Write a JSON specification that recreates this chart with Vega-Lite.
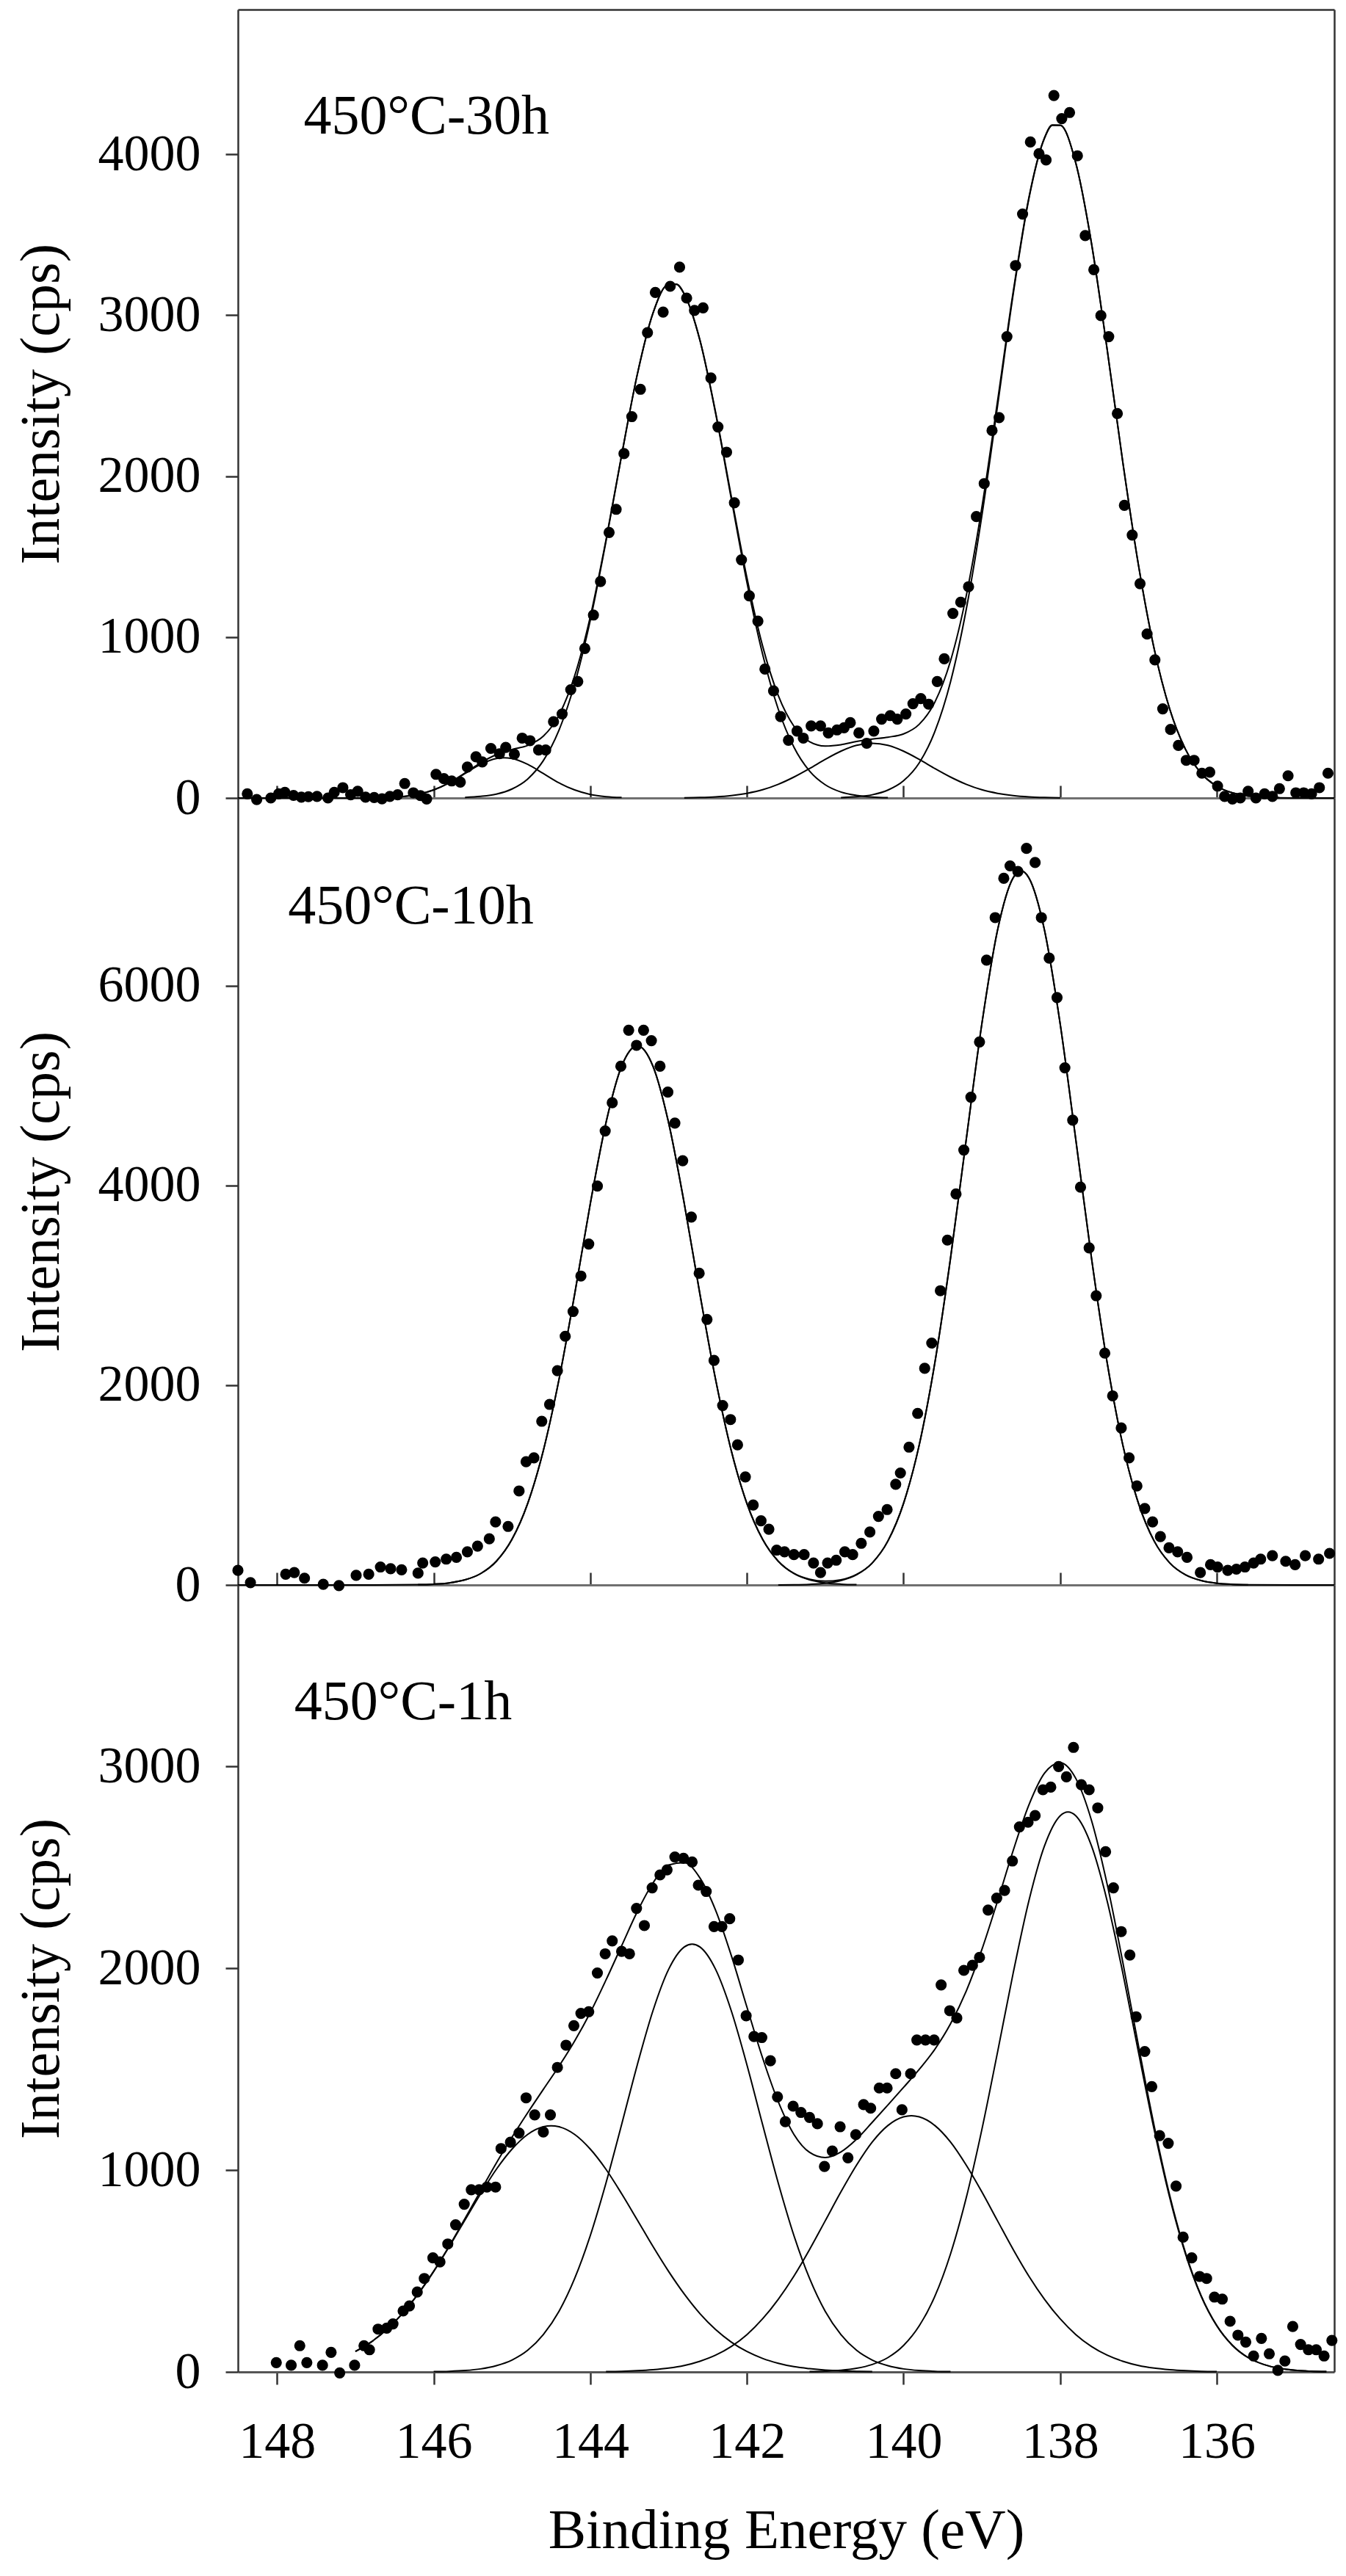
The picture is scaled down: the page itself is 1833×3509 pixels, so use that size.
{
"$schema":"https://vega.github.io/schema/vega-lite/v6.json",
"background":"white",
"padding":{"left":18,"top":13,"right":10,"bottom":10},
"spacing":0,
"bounds":"flush",
"config":{"view":{"stroke":null},"axis":{"labelFont":"Liberation Serif","titleFont":"Liberation Serif","labelColor":"black","titleColor":"black","titleFontWeight":"normal","grid":false}},
"datasets":{
"pts":[
{"p":1,"E":148.38,"I":26},{"p":1,"E":148.26,"I":-10},{"p":1,"E":148.08,"I":0},{"p":1,"E":147.98,"I":26},{"p":1,"E":147.9,"I":35},{"p":1,"E":147.79,"I":16},{"p":1,"E":147.69,"I":5},{"p":1,"E":147.6,"I":8},{"p":1,"E":147.49,"I":10},{"p":1,"E":147.35,"I":0},{"p":1,"E":147.27,"I":35},{"p":1,"E":147.16,"I":64},{"p":1,"E":147.06,"I":20},{"p":1,"E":146.97,"I":42},{"p":1,"E":146.87,"I":5},{"p":1,"E":146.76,"I":3},{"p":1,"E":146.66,"I":-5},{"p":1,"E":146.56,"I":10},{"p":1,"E":146.46,"I":20},{"p":1,"E":146.37,"I":90},{"p":1,"E":146.26,"I":32},{"p":1,"E":146.17,"I":15},{"p":1,"E":146.09,"I":-6},{"p":1,"E":145.97,"I":147},{"p":1,"E":145.87,"I":120},{"p":1,"E":145.77,"I":106},{"p":1,"E":145.66,"I":99},{"p":1,"E":145.57,"I":192},{"p":1,"E":145.46,"I":256},{"p":1,"E":145.38,"I":224},{"p":1,"E":145.27,"I":308},{"p":1,"E":145.16,"I":275},{"p":1,"E":145.08,"I":314},{"p":1,"E":144.97,"I":272},{"p":1,"E":144.87,"I":372},{"p":1,"E":144.77,"I":356},{"p":1,"E":144.66,"I":298},{"p":1,"E":144.57,"I":298},{"p":1,"E":144.47,"I":474},{"p":1,"E":144.36,"I":522},{"p":1,"E":144.25,"I":673},{"p":1,"E":144.16,"I":724},{"p":1,"E":144.07,"I":929},{"p":1,"E":143.96,"I":1137},{"p":1,"E":143.87,"I":1345},{"p":1,"E":143.76,"I":1650},{"p":1,"E":143.67,"I":1794},{"p":1,"E":143.57,"I":2140},{"p":1,"E":143.47,"I":2370},{"p":1,"E":143.36,"I":2540},{"p":1,"E":143.27,"I":2892},{"p":1,"E":143.17,"I":3142},{"p":1,"E":143.07,"I":3020},{"p":1,"E":142.98,"I":3180},{"p":1,"E":142.86,"I":3299},{"p":1,"E":142.77,"I":3107},{"p":1,"E":142.67,"I":3030},{"p":1,"E":142.56,"I":3046},{"p":1,"E":142.46,"I":2610},{"p":1,"E":142.37,"I":2306},{"p":1,"E":142.26,"I":2149},{"p":1,"E":142.16,"I":1835},{"p":1,"E":142.07,"I":1480},{"p":1,"E":141.97,"I":1256},{"p":1,"E":141.86,"I":1099},{"p":1,"E":141.77,"I":801},{"p":1,"E":141.66,"I":666},{"p":1,"E":141.57,"I":506},{"p":1,"E":141.47,"I":359},{"p":1,"E":141.36,"I":416},{"p":1,"E":141.28,"I":372},{"p":1,"E":141.18,"I":448},{"p":1,"E":141.06,"I":448},{"p":1,"E":140.96,"I":404},{"p":1,"E":140.85,"I":423},{"p":1,"E":140.76,"I":436},{"p":1,"E":140.68,"I":468},{"p":1,"E":140.57,"I":404},{"p":1,"E":140.47,"I":340},{"p":1,"E":140.38,"I":416},{"p":1,"E":140.28,"I":490},{"p":1,"E":140.17,"I":512},{"p":1,"E":140.08,"I":490},{"p":1,"E":139.97,"I":522},{"p":1,"E":139.88,"I":586},{"p":1,"E":139.78,"I":618},{"p":1,"E":139.68,"I":583},{"p":1,"E":139.57,"I":724},{"p":1,"E":139.48,"I":865},{"p":1,"E":139.37,"I":1147},{"p":1,"E":139.27,"I":1217},{"p":1,"E":139.17,"I":1313},{"p":1,"E":139.07,"I":1749},{"p":1,"E":138.97,"I":1954},{"p":1,"E":138.87,"I":2284},{"p":1,"E":138.78,"I":2364},{"p":1,"E":138.68,"I":2867},{"p":1,"E":138.57,"I":3309},{"p":1,"E":138.48,"I":3629},{"p":1,"E":138.38,"I":4077},{"p":1,"E":138.27,"I":4004},{"p":1,"E":138.18,"I":3965},{"p":1,"E":138.08,"I":4366},{"p":1,"E":137.98,"I":4222},{"p":1,"E":137.88,"I":4260},{"p":1,"E":137.78,"I":3991},{"p":1,"E":137.68,"I":3495},{"p":1,"E":137.57,"I":3283},{"p":1,"E":137.48,"I":2998},{"p":1,"E":137.38,"I":2867},{"p":1,"E":137.27,"I":2389},{"p":1,"E":137.18,"I":1819},{"p":1,"E":137.08,"I":1634},{"p":1,"E":136.98,"I":1332},{"p":1,"E":136.89,"I":1019},{"p":1,"E":136.79,"I":858},{"p":1,"E":136.69,"I":554},{"p":1,"E":136.59,"I":426},{"p":1,"E":136.49,"I":327},{"p":1,"E":136.39,"I":234},{"p":1,"E":136.29,"I":234},{"p":1,"E":136.19,"I":154},{"p":1,"E":136.09,"I":160},{"p":1,"E":135.99,"I":74},{"p":1,"E":135.9,"I":10},{"p":1,"E":135.8,"I":-6},{"p":1,"E":135.7,"I":0},{"p":1,"E":135.6,"I":42},{"p":1,"E":135.5,"I":0},{"p":1,"E":135.39,"I":26},{"p":1,"E":135.29,"I":10},{"p":1,"E":135.2,"I":58},{"p":1,"E":135.09,"I":138},{"p":1,"E":134.99,"I":32},{"p":1,"E":134.89,"I":32},{"p":1,"E":134.79,"I":26},{"p":1,"E":134.69,"I":64},{"p":1,"E":134.58,"I":154},
{"p":2,"E":148.5,"I":146},{"p":2,"E":148.34,"I":23},{"p":2,"E":147.89,"I":107},{"p":2,"E":147.78,"I":124},{"p":2,"E":147.65,"I":68},{"p":2,"E":147.41,"I":6},{"p":2,"E":147.21,"I":-6},{"p":2,"E":146.99,"I":96},{"p":2,"E":146.83,"I":107},{"p":2,"E":146.68,"I":180},{"p":2,"E":146.55,"I":163},{"p":2,"E":146.41,"I":152},{"p":2,"E":146.2,"I":118},{"p":2,"E":146.14,"I":220},{"p":2,"E":145.98,"I":231},{"p":2,"E":145.84,"I":259},{"p":2,"E":145.71,"I":276},{"p":2,"E":145.57,"I":332},{"p":2,"E":145.44,"I":389},{"p":2,"E":145.29,"I":462},{"p":2,"E":145.21,"I":631},{"p":2,"E":145.05,"I":586},{"p":2,"E":144.91,"I":941},{"p":2,"E":144.82,"I":1234},{"p":2,"E":144.72,"I":1273},{"p":2,"E":144.62,"I":1639},{"p":2,"E":144.52,"I":1808},{"p":2,"E":144.42,"I":2146},{"p":2,"E":144.32,"I":2490},{"p":2,"E":144.22,"I":2738},{"p":2,"E":144.12,"I":3093},{"p":2,"E":144.02,"I":3414},{"p":2,"E":143.91,"I":3994},{"p":2,"E":143.81,"I":4546},{"p":2,"E":143.72,"I":4828},{"p":2,"E":143.61,"I":5194},{"p":2,"E":143.51,"I":5555},{"p":2,"E":143.41,"I":5403},{"p":2,"E":143.32,"I":5555},{"p":2,"E":143.22,"I":5450},{"p":2,"E":143.11,"I":5194},{"p":2,"E":143.01,"I":4935},{"p":2,"E":142.92,"I":4625},{"p":2,"E":142.82,"I":4248},{"p":2,"E":142.71,"I":3684},{"p":2,"E":142.61,"I":3121},{"p":2,"E":142.51,"I":2659},{"p":2,"E":142.42,"I":2248},{"p":2,"E":142.31,"I":1797},{"p":2,"E":142.21,"I":1656},{"p":2,"E":142.12,"I":1403},{"p":2,"E":142.02,"I":1082},{"p":2,"E":141.92,"I":800},{"p":2,"E":141.82,"I":642},{"p":2,"E":141.72,"I":558},{"p":2,"E":141.62,"I":349},{"p":2,"E":141.52,"I":332},{"p":2,"E":141.4,"I":304},{"p":2,"E":141.27,"I":304},{"p":2,"E":141.15,"I":220},{"p":2,"E":141.06,"I":124},{"p":2,"E":140.97,"I":220},{"p":2,"E":140.86,"I":248},{"p":2,"E":140.75,"I":332},{"p":2,"E":140.65,"I":304},{"p":2,"E":140.54,"I":417},{"p":2,"E":140.43,"I":530},{"p":2,"E":140.32,"I":687},{"p":2,"E":140.21,"I":755},{"p":2,"E":140.1,"I":1008},{"p":2,"E":140.04,"I":1121},{"p":2,"E":139.93,"I":1380},{"p":2,"E":139.82,"I":1718},{"p":2,"E":139.73,"I":2169},{"p":2,"E":139.64,"I":2422},{"p":2,"E":139.53,"I":2946},{"p":2,"E":139.44,"I":3453},{"p":2,"E":139.33,"I":3915},{"p":2,"E":139.23,"I":4355},{"p":2,"E":139.14,"I":4884},{"p":2,"E":139.03,"I":5437},{"p":2,"E":138.94,"I":6256},{"p":2,"E":138.83,"I":6682},{"p":2,"E":138.72,"I":7076},{"p":2,"E":138.64,"I":7200},{"p":2,"E":138.54,"I":7144},{"p":2,"E":138.43,"I":7375},{"p":2,"E":138.32,"I":7234},{"p":2,"E":138.24,"I":6682},{"p":2,"E":138.14,"I":6276},{"p":2,"E":138.04,"I":5882},{"p":2,"E":137.94,"I":5178},{"p":2,"E":137.84,"I":4654},{"p":2,"E":137.74,"I":3983},{"p":2,"E":137.63,"I":3375},{"p":2,"E":137.54,"I":2896},{"p":2,"E":137.43,"I":2321},{"p":2,"E":137.33,"I":1893},{"p":2,"E":137.22,"I":1572},{"p":2,"E":137.12,"I":1273},{"p":2,"E":137.02,"I":991},{"p":2,"E":136.92,"I":766},{"p":2,"E":136.82,"I":631},{"p":2,"E":136.72,"I":484},{"p":2,"E":136.61,"I":372},{"p":2,"E":136.5,"I":332},{"p":2,"E":136.38,"I":276},{"p":2,"E":136.21,"I":124},{"p":2,"E":136.08,"I":203},{"p":2,"E":135.99,"I":180},{"p":2,"E":135.86,"I":146},{"p":2,"E":135.75,"I":158},{"p":2,"E":135.64,"I":180},{"p":2,"E":135.53,"I":220},{"p":2,"E":135.44,"I":259},{"p":2,"E":135.29,"I":293},{"p":2,"E":135.12,"I":237},{"p":2,"E":135.0,"I":203},{"p":2,"E":134.87,"I":293},{"p":2,"E":134.7,"I":259},{"p":2,"E":134.56,"I":316},
{"p":3,"E":148.01,"I":46},{"p":3,"E":147.82,"I":33},{"p":3,"E":147.71,"I":130},{"p":3,"E":147.62,"I":46},{"p":3,"E":147.42,"I":33},{"p":3,"E":147.31,"I":97},{"p":3,"E":147.2,"I":-5},{"p":3,"E":147.01,"I":33},{"p":3,"E":146.89,"I":130},{"p":3,"E":146.82,"I":110},{"p":3,"E":146.71,"I":212},{"p":3,"E":146.6,"I":217},{"p":3,"E":146.52,"I":238},{"p":3,"E":146.39,"I":302},{"p":3,"E":146.31,"I":327},{"p":3,"E":146.21,"I":396},{"p":3,"E":146.12,"I":463},{"p":3,"E":146.01,"I":565},{"p":3,"E":145.92,"I":545},{"p":3,"E":145.82,"I":634},{"p":3,"E":145.72,"I":729},{"p":3,"E":145.61,"I":831},{"p":3,"E":145.52,"I":903},{"p":3,"E":145.42,"I":903},{"p":3,"E":145.32,"I":916},{"p":3,"E":145.21,"I":916},{"p":3,"E":145.14,"I":1107},{"p":3,"E":145.02,"I":1138},{"p":3,"E":144.91,"I":1184},{"p":3,"E":144.82,"I":1358},{"p":3,"E":144.71,"I":1274},{"p":3,"E":144.6,"I":1189},{"p":3,"E":144.51,"I":1274},{"p":3,"E":144.42,"I":1509},{"p":3,"E":144.31,"I":1619},{"p":3,"E":144.21,"I":1716},{"p":3,"E":144.12,"I":1777},{"p":3,"E":144.02,"I":1785},{"p":3,"E":143.91,"I":1977},{"p":3,"E":143.81,"I":2072},{"p":3,"E":143.72,"I":2136},{"p":3,"E":143.6,"I":2084},{"p":3,"E":143.5,"I":2072},{"p":3,"E":143.41,"I":2297},{"p":3,"E":143.31,"I":2212},{"p":3,"E":143.21,"I":2399},{"p":3,"E":143.11,"I":2463},{"p":3,"E":143.02,"I":2488},{"p":3,"E":142.92,"I":2552},{"p":3,"E":142.81,"I":2545},{"p":3,"E":142.7,"I":2527},{"p":3,"E":142.62,"I":2412},{"p":3,"E":142.52,"I":2381},{"p":3,"E":142.42,"I":2207},{"p":3,"E":142.32,"I":2207},{"p":3,"E":142.22,"I":2246},{"p":3,"E":142.11,"I":2041},{"p":3,"E":142.01,"I":1765},{"p":3,"E":141.91,"I":1662},{"p":3,"E":141.81,"I":1657},{"p":3,"E":141.7,"I":1542},{"p":3,"E":141.61,"I":1363},{"p":3,"E":141.51,"I":1240},{"p":3,"E":141.41,"I":1317},{"p":3,"E":141.31,"I":1286},{"p":3,"E":141.2,"I":1261},{"p":3,"E":141.1,"I":1230},{"p":3,"E":141.01,"I":1018},{"p":3,"E":140.91,"I":1095},{"p":3,"E":140.81,"I":1215},{"p":3,"E":140.71,"I":1061},{"p":3,"E":140.61,"I":1176},{"p":3,"E":140.51,"I":1325},{"p":3,"E":140.42,"I":1307},{"p":3,"E":140.31,"I":1407},{"p":3,"E":140.21,"I":1407},{"p":3,"E":140.1,"I":1478},{"p":3,"E":140.02,"I":1299},{"p":3,"E":139.91,"I":1478},{"p":3,"E":139.83,"I":1645},{"p":3,"E":139.72,"I":1645},{"p":3,"E":139.61,"I":1645},{"p":3,"E":139.52,"I":1918},{"p":3,"E":139.41,"I":1790},{"p":3,"E":139.32,"I":1754},{"p":3,"E":139.23,"I":1990},{"p":3,"E":139.12,"I":2015},{"p":3,"E":139.03,"I":2054},{"p":3,"E":138.92,"I":2289},{"p":3,"E":138.81,"I":2348},{"p":3,"E":138.71,"I":2386},{"p":3,"E":138.61,"I":2532},{"p":3,"E":138.52,"I":2701},{"p":3,"E":138.41,"I":2724},{"p":3,"E":138.32,"I":2757},{"p":3,"E":138.22,"I":2885},{"p":3,"E":138.12,"I":2898},{"p":3,"E":138.02,"I":3000},{"p":3,"E":137.92,"I":2949},{"p":3,"E":137.83,"I":3095},{"p":3,"E":137.73,"I":2910},{"p":3,"E":137.63,"I":2885},{"p":3,"E":137.52,"I":2795},{"p":3,"E":137.42,"I":2578},{"p":3,"E":137.32,"I":2399},{"p":3,"E":137.22,"I":2182},{"p":3,"E":137.11,"I":2066},{"p":3,"E":137.03,"I":1760},{"p":3,"E":136.92,"I":1588},{"p":3,"E":136.83,"I":1414},{"p":3,"E":136.73,"I":1171},{"p":3,"E":136.62,"I":1133},{"p":3,"E":136.52,"I":921},{"p":3,"E":136.43,"I":668},{"p":3,"E":136.32,"I":565},{"p":3,"E":136.22,"I":473},{"p":3,"E":136.13,"I":463},{"p":3,"E":136.03,"I":371},{"p":3,"E":135.93,"I":361},{"p":3,"E":135.83,"I":251},{"p":3,"E":135.73,"I":182},{"p":3,"E":135.63,"I":148},{"p":3,"E":135.53,"I":79},{"p":3,"E":135.43,"I":166},{"p":3,"E":135.33,"I":90},{"p":3,"E":135.22,"I":8},{"p":3,"E":135.13,"I":54},{"p":3,"E":135.03,"I":225},{"p":3,"E":134.93,"I":136},{"p":3,"E":134.83,"I":110},{"p":3,"E":134.73,"I":110},{"p":3,"E":134.63,"I":79},{"p":3,"E":134.53,"I":156}
],
"fit":[
{"p":1,"c":"e","E":148.5,"I":0},{"p":1,"c":"e","E":147.5,"I":0},{"p":1,"c":"e","E":147.0,"I":0.3},{"p":1,"c":"e","E":146.6,"I":3},{"p":1,"c":"e","E":146.4,"I":9},{"p":1,"c":"e","E":146.2,"I":22},{"p":1,"c":"e","E":146.0,"I":50},{"p":1,"c":"e","E":145.8,"I":95},{"p":1,"c":"e","E":145.6,"I":156},{"p":1,"c":"e","E":145.4,"I":219},{"p":1,"c":"e","E":145.2,"I":269},{"p":1,"c":"e","E":145.0,"I":301},{"p":1,"c":"e","E":144.8,"I":327},{"p":1,"c":"e","E":144.6,"I":384},{"p":1,"c":"e","E":144.4,"I":515},{"p":1,"c":"e","E":144.2,"I":759},{"p":1,"c":"e","E":144.0,"I":1127},{"p":1,"c":"e","E":143.8,"I":1603},{"p":1,"c":"e","E":143.6,"I":2132},{"p":1,"c":"e","E":143.4,"I":2633},{"p":1,"c":"e","E":143.2,"I":3013},{"p":1,"c":"e","E":143.0,"I":3193},{"p":1,"c":"e","E":142.9,"I":3193},{"p":1,"c":"e","E":142.8,"I":3132},{"p":1,"c":"e","E":142.6,"I":2846},{"p":1,"c":"e","E":142.4,"I":2397},{"p":1,"c":"e","E":142.2,"I":1875},{"p":1,"c":"e","E":142.0,"I":1369},{"p":1,"c":"e","E":141.8,"I":945},{"p":1,"c":"e","E":141.6,"I":637},{"p":1,"c":"e","E":141.4,"I":446},{"p":1,"c":"e","E":141.2,"I":350},{"p":1,"c":"e","E":141.0,"I":323},{"p":1,"c":"e","E":140.8,"I":331},{"p":1,"c":"e","E":140.6,"I":351},{"p":1,"c":"e","E":140.4,"I":366},{"p":1,"c":"e","E":140.2,"I":378},{"p":1,"c":"e","E":140.0,"I":398},{"p":1,"c":"e","E":139.8,"I":458},{"p":1,"c":"e","E":139.6,"I":596},{"p":1,"c":"e","E":139.4,"I":852},{"p":1,"c":"e","E":139.2,"I":1255},{"p":1,"c":"e","E":139.0,"I":1805},{"p":1,"c":"e","E":138.8,"I":2465},{"p":1,"c":"e","E":138.6,"I":3145},{"p":1,"c":"e","E":138.4,"I":3730},{"p":1,"c":"e","E":138.2,"I":4103},{"p":1,"c":"e","E":138.1,"I":4182},{"p":1,"c":"e","E":138.0,"I":4181},{"p":1,"c":"e","E":137.8,"I":3945},{"p":1,"c":"e","E":137.6,"I":3447},{"p":1,"c":"e","E":137.4,"I":2788},{"p":1,"c":"e","E":137.2,"I":2087},{"p":1,"c":"e","E":137.0,"I":1447},{"p":1,"c":"e","E":136.8,"I":928},{"p":1,"c":"e","E":136.6,"I":551},{"p":1,"c":"e","E":136.4,"I":303},{"p":1,"c":"e","E":136.2,"I":154},{"p":1,"c":"e","E":136.0,"I":73},{"p":1,"c":"e","E":135.8,"I":32},{"p":1,"c":"e","E":135.6,"I":13},{"p":1,"c":"e","E":135.4,"I":5},{"p":1,"c":"e","E":135.0,"I":0},{"p":1,"c":"e","E":134.5,"I":0},
{"p":1,"c":"a","E":146.6,"I":3},{"p":1,"c":"a","E":146.4,"I":8.5},{"p":1,"c":"a","E":146.2,"I":22},{"p":1,"c":"a","E":146.0,"I":50},{"p":1,"c":"a","E":145.8,"I":94},{"p":1,"c":"a","E":145.6,"I":152},{"p":1,"c":"a","E":145.4,"I":209},{"p":1,"c":"a","E":145.2,"I":245},{"p":1,"c":"a","E":145.1,"I":250},{"p":1,"c":"a","E":145.0,"I":245},{"p":1,"c":"a","E":144.8,"I":209},{"p":1,"c":"a","E":144.6,"I":152},{"p":1,"c":"a","E":144.4,"I":94},{"p":1,"c":"a","E":144.2,"I":50},{"p":1,"c":"a","E":144.0,"I":22},{"p":1,"c":"a","E":143.8,"I":8.5},{"p":1,"c":"a","E":143.6,"I":3},
{"p":1,"c":"b","E":145.6,"I":3.6},{"p":1,"c":"b","E":145.4,"I":10},{"p":1,"c":"b","E":145.2,"I":24},{"p":1,"c":"b","E":145.0,"I":56},{"p":1,"c":"b","E":144.8,"I":118},{"p":1,"c":"b","E":144.6,"I":232},{"p":1,"c":"b","E":144.4,"I":421},{"p":1,"c":"b","E":144.2,"I":709},{"p":1,"c":"b","E":144.0,"I":1105},{"p":1,"c":"b","E":143.8,"I":1594},{"p":1,"c":"b","E":143.6,"I":2129},{"p":1,"c":"b","E":143.4,"I":2632},{"p":1,"c":"b","E":143.2,"I":3013},{"p":1,"c":"b","E":143.0,"I":3192},{"p":1,"c":"b","E":142.9,"I":3192},{"p":1,"c":"b","E":142.8,"I":3131},{"p":1,"c":"b","E":142.6,"I":2843},{"p":1,"c":"b","E":142.4,"I":2390},{"p":1,"c":"b","E":142.2,"I":1860},{"p":1,"c":"b","E":142.0,"I":1340},{"p":1,"c":"b","E":141.8,"I":894},{"p":1,"c":"b","E":141.6,"I":552},{"p":1,"c":"b","E":141.4,"I":316},{"p":1,"c":"b","E":141.2,"I":167},{"p":1,"c":"b","E":141.0,"I":82},{"p":1,"c":"b","E":140.8,"I":37},{"p":1,"c":"b","E":140.6,"I":16},{"p":1,"c":"b","E":140.4,"I":6},{"p":1,"c":"b","E":140.2,"I":2},
{"p":1,"c":"c","E":142.8,"I":1},{"p":1,"c":"c","E":142.6,"I":3},{"p":1,"c":"c","E":142.4,"I":7},{"p":1,"c":"c","E":142.2,"I":15},{"p":1,"c":"c","E":142.0,"I":29},{"p":1,"c":"c","E":141.8,"I":51},{"p":1,"c":"c","E":141.6,"I":85},{"p":1,"c":"c","E":141.4,"I":130},{"p":1,"c":"c","E":141.2,"I":183},{"p":1,"c":"c","E":141.0,"I":240},{"p":1,"c":"c","E":140.8,"I":291},{"p":1,"c":"c","E":140.6,"I":327},{"p":1,"c":"c","E":140.4,"I":340},{"p":1,"c":"c","E":140.2,"I":327},{"p":1,"c":"c","E":140.0,"I":291},{"p":1,"c":"c","E":139.8,"I":240},{"p":1,"c":"c","E":139.6,"I":183},{"p":1,"c":"c","E":139.4,"I":130},{"p":1,"c":"c","E":139.2,"I":85},{"p":1,"c":"c","E":139.0,"I":51},{"p":1,"c":"c","E":138.8,"I":29},{"p":1,"c":"c","E":138.6,"I":15},{"p":1,"c":"c","E":138.4,"I":7},{"p":1,"c":"c","E":138.2,"I":3},{"p":1,"c":"c","E":138.0,"I":1},
{"p":1,"c":"d","E":140.8,"I":2.8},{"p":1,"c":"d","E":140.6,"I":8},{"p":1,"c":"d","E":140.4,"I":20},{"p":1,"c":"d","E":140.2,"I":49},{"p":1,"c":"d","E":140.0,"I":107},{"p":1,"c":"d","E":139.8,"I":218},{"p":1,"c":"d","E":139.6,"I":413},{"p":1,"c":"d","E":139.4,"I":722},{"p":1,"c":"d","E":139.2,"I":1170},{"p":1,"c":"d","E":139.0,"I":1754},{"p":1,"c":"d","E":138.8,"I":2436},{"p":1,"c":"d","E":138.6,"I":3130},{"p":1,"c":"d","E":138.4,"I":3723},{"p":1,"c":"d","E":138.2,"I":4100},{"p":1,"c":"d","E":138.1,"I":4180},{"p":1,"c":"d","E":138.0,"I":4180},{"p":1,"c":"d","E":137.8,"I":3945},{"p":1,"c":"d","E":137.6,"I":3447},{"p":1,"c":"d","E":137.4,"I":2788},{"p":1,"c":"d","E":137.2,"I":2087},{"p":1,"c":"d","E":137.0,"I":1447},{"p":1,"c":"d","E":136.8,"I":928},{"p":1,"c":"d","E":136.6,"I":551},{"p":1,"c":"d","E":136.4,"I":303},{"p":1,"c":"d","E":136.2,"I":154},{"p":1,"c":"d","E":136.0,"I":73},{"p":1,"c":"d","E":135.8,"I":32},{"p":1,"c":"d","E":135.6,"I":13},{"p":1,"c":"d","E":135.4,"I":5},{"p":1,"c":"d","E":135.2,"I":2},
{"p":2,"c":"e","E":148.5,"I":0},{"p":2,"c":"e","E":147.0,"I":0},{"p":2,"c":"e","E":146.2,"I":2.8},{"p":2,"c":"e","E":146.0,"I":8},{"p":2,"c":"e","E":145.8,"I":21},{"p":2,"c":"e","E":145.6,"I":51},{"p":2,"c":"e","E":145.4,"I":114},{"p":2,"c":"e","E":145.2,"I":237},{"p":2,"c":"e","E":145.0,"I":457},{"p":2,"c":"e","E":144.8,"I":815},{"p":2,"c":"e","E":144.6,"I":1345},{"p":2,"c":"e","E":144.4,"I":2057},{"p":2,"c":"e","E":144.2,"I":2911},{"p":2,"c":"e","E":144.0,"I":3818},{"p":2,"c":"e","E":143.8,"I":4628},{"p":2,"c":"e","E":143.6,"I":5195},{"p":2,"c":"e","E":143.4,"I":5400},{"p":2,"c":"e","E":143.2,"I":5195},{"p":2,"c":"e","E":143.0,"I":4628},{"p":2,"c":"e","E":142.8,"I":3818},{"p":2,"c":"e","E":142.6,"I":2911},{"p":2,"c":"e","E":142.4,"I":2057},{"p":2,"c":"e","E":142.2,"I":1345},{"p":2,"c":"e","E":142.0,"I":815},{"p":2,"c":"e","E":141.8,"I":457},{"p":2,"c":"e","E":141.6,"I":238},{"p":2,"c":"e","E":141.4,"I":116},{"p":2,"c":"e","E":141.2,"I":57},{"p":2,"c":"e","E":141.0,"I":38},{"p":2,"c":"e","E":140.8,"I":52},{"p":2,"c":"e","E":140.6,"I":105},{"p":2,"c":"e","E":140.4,"I":220},{"p":2,"c":"e","E":140.2,"I":440},{"p":2,"c":"e","E":140.0,"I":817},{"p":2,"c":"e","E":139.8,"I":1401},{"p":2,"c":"e","E":139.6,"I":2226},{"p":2,"c":"e","E":139.4,"I":3273},{"p":2,"c":"e","E":139.2,"I":4457},{"p":2,"c":"e","E":139.0,"I":5618},{"p":2,"c":"e","E":138.8,"I":6556},{"p":2,"c":"e","E":138.6,"I":7081},{"p":2,"c":"e","E":138.5,"I":7150},{"p":2,"c":"e","E":138.4,"I":7081},{"p":2,"c":"e","E":138.2,"I":6556},{"p":2,"c":"e","E":138.0,"I":5618},{"p":2,"c":"e","E":137.8,"I":4457},{"p":2,"c":"e","E":137.6,"I":3273},{"p":2,"c":"e","E":137.4,"I":2226},{"p":2,"c":"e","E":137.2,"I":1401},{"p":2,"c":"e","E":137.0,"I":817},{"p":2,"c":"e","E":136.8,"I":440},{"p":2,"c":"e","E":136.6,"I":220},{"p":2,"c":"e","E":136.4,"I":102},{"p":2,"c":"e","E":136.2,"I":44},{"p":2,"c":"e","E":136.0,"I":17},{"p":2,"c":"e","E":135.8,"I":6},{"p":2,"c":"e","E":135.6,"I":2},{"p":2,"c":"e","E":135.0,"I":0},{"p":2,"c":"e","E":134.5,"I":0},
{"p":2,"c":"a","E":146.2,"I":2.8},{"p":2,"c":"a","E":146.0,"I":8},{"p":2,"c":"a","E":145.8,"I":21},{"p":2,"c":"a","E":145.6,"I":51},{"p":2,"c":"a","E":145.4,"I":114},{"p":2,"c":"a","E":145.2,"I":237},{"p":2,"c":"a","E":145.0,"I":457},{"p":2,"c":"a","E":144.8,"I":815},{"p":2,"c":"a","E":144.6,"I":1345},{"p":2,"c":"a","E":144.4,"I":2057},{"p":2,"c":"a","E":144.2,"I":2911},{"p":2,"c":"a","E":144.0,"I":3818},{"p":2,"c":"a","E":143.8,"I":4628},{"p":2,"c":"a","E":143.6,"I":5195},{"p":2,"c":"a","E":143.4,"I":5400},{"p":2,"c":"a","E":143.2,"I":5195},{"p":2,"c":"a","E":143.0,"I":4628},{"p":2,"c":"a","E":142.8,"I":3818},{"p":2,"c":"a","E":142.6,"I":2911},{"p":2,"c":"a","E":142.4,"I":2057},{"p":2,"c":"a","E":142.2,"I":1345},{"p":2,"c":"a","E":142.0,"I":815},{"p":2,"c":"a","E":141.8,"I":457},{"p":2,"c":"a","E":141.6,"I":237},{"p":2,"c":"a","E":141.4,"I":114},{"p":2,"c":"a","E":141.2,"I":51},{"p":2,"c":"a","E":141.0,"I":21},{"p":2,"c":"a","E":140.8,"I":8},{"p":2,"c":"a","E":140.6,"I":2.8},
{"p":2,"c":"b","E":141.6,"I":0.7},{"p":2,"c":"b","E":141.4,"I":2},{"p":2,"c":"b","E":141.2,"I":6.3},{"p":2,"c":"b","E":141.0,"I":17},{"p":2,"c":"b","E":140.8,"I":44},{"p":2,"c":"b","E":140.6,"I":102},{"p":2,"c":"b","E":140.4,"I":220},{"p":2,"c":"b","E":140.2,"I":440},{"p":2,"c":"b","E":140.0,"I":817},{"p":2,"c":"b","E":139.8,"I":1401},{"p":2,"c":"b","E":139.6,"I":2226},{"p":2,"c":"b","E":139.4,"I":3273},{"p":2,"c":"b","E":139.2,"I":4457},{"p":2,"c":"b","E":139.0,"I":5618},{"p":2,"c":"b","E":138.8,"I":6556},{"p":2,"c":"b","E":138.6,"I":7081},{"p":2,"c":"b","E":138.5,"I":7150},{"p":2,"c":"b","E":138.4,"I":7081},{"p":2,"c":"b","E":138.2,"I":6556},{"p":2,"c":"b","E":138.0,"I":5618},{"p":2,"c":"b","E":137.8,"I":4457},{"p":2,"c":"b","E":137.6,"I":3273},{"p":2,"c":"b","E":137.4,"I":2226},{"p":2,"c":"b","E":137.2,"I":1401},{"p":2,"c":"b","E":137.0,"I":817},{"p":2,"c":"b","E":136.8,"I":440},{"p":2,"c":"b","E":136.6,"I":220},{"p":2,"c":"b","E":136.4,"I":102},{"p":2,"c":"b","E":136.2,"I":44},{"p":2,"c":"b","E":136.0,"I":17},{"p":2,"c":"b","E":135.8,"I":6.3},{"p":2,"c":"b","E":135.6,"I":2},
{"p":3,"c":"e","E":147.0,"I":101},{"p":3,"c":"e","E":146.8,"I":148},{"p":3,"c":"e","E":146.6,"I":210},{"p":3,"c":"e","E":146.4,"I":289},{"p":3,"c":"e","E":146.2,"I":386},{"p":3,"c":"e","E":146.0,"I":499},{"p":3,"c":"e","E":145.8,"I":625},{"p":3,"c":"e","E":145.6,"I":760},{"p":3,"c":"e","E":145.4,"I":898},{"p":3,"c":"e","E":145.2,"I":1035},{"p":3,"c":"e","E":145.0,"I":1163},{"p":3,"c":"e","E":144.8,"I":1284},{"p":3,"c":"e","E":144.6,"I":1400},{"p":3,"c":"e","E":144.4,"I":1515},{"p":3,"c":"e","E":144.2,"I":1640},{"p":3,"c":"e","E":144.0,"I":1781},{"p":3,"c":"e","E":143.8,"I":1942},{"p":3,"c":"e","E":143.6,"I":2112},{"p":3,"c":"e","E":143.4,"I":2281},{"p":3,"c":"e","E":143.2,"I":2423},{"p":3,"c":"e","E":143.0,"I":2512},{"p":3,"c":"e","E":142.8,"I":2524},{"p":3,"c":"e","E":142.6,"I":2448},{"p":3,"c":"e","E":142.4,"I":2288},{"p":3,"c":"e","E":142.2,"I":2064},{"p":3,"c":"e","E":142.0,"I":1808},{"p":3,"c":"e","E":141.8,"I":1556},{"p":3,"c":"e","E":141.6,"I":1339},{"p":3,"c":"e","E":141.4,"I":1177},{"p":3,"c":"e","E":141.2,"I":1088},{"p":3,"c":"e","E":141.0,"I":1062},{"p":3,"c":"e","E":140.8,"I":1090},{"p":3,"c":"e","E":140.6,"I":1153},{"p":3,"c":"e","E":140.4,"I":1237},{"p":3,"c":"e","E":140.2,"I":1323},{"p":3,"c":"e","E":140.0,"I":1410},{"p":3,"c":"e","E":139.8,"I":1499},{"p":3,"c":"e","E":139.6,"I":1599},{"p":3,"c":"e","E":139.4,"I":1725},{"p":3,"c":"e","E":139.2,"I":1887},{"p":3,"c":"e","E":139.0,"I":2093},{"p":3,"c":"e","E":138.8,"I":2333},{"p":3,"c":"e","E":138.6,"I":2584},{"p":3,"c":"e","E":138.4,"I":2809},{"p":3,"c":"e","E":138.2,"I":2967},{"p":3,"c":"e","E":138.0,"I":3019},{"p":3,"c":"e","E":137.8,"I":2941},{"p":3,"c":"e","E":137.6,"I":2733},{"p":3,"c":"e","E":137.4,"I":2417},{"p":3,"c":"e","E":137.2,"I":2030},{"p":3,"c":"e","E":137.0,"I":1616},{"p":3,"c":"e","E":136.8,"I":1220},{"p":3,"c":"e","E":136.6,"I":873},{"p":3,"c":"e","E":136.4,"I":591},{"p":3,"c":"e","E":136.2,"I":378},{"p":3,"c":"e","E":136.0,"I":230},{"p":3,"c":"e","E":135.8,"I":132},{"p":3,"c":"e","E":135.6,"I":71},{"p":3,"c":"e","E":135.4,"I":37},{"p":3,"c":"e","E":135.2,"I":18},{"p":3,"c":"e","E":135.0,"I":8},{"p":3,"c":"e","E":134.8,"I":3.6},{"p":3,"c":"e","E":134.6,"I":1.5},
{"p":3,"c":"a","E":147.0,"I":101},{"p":3,"c":"a","E":146.8,"I":148},{"p":3,"c":"a","E":146.6,"I":210},{"p":3,"c":"a","E":146.4,"I":289},{"p":3,"c":"a","E":146.2,"I":386},{"p":3,"c":"a","E":146.0,"I":498},{"p":3,"c":"a","E":145.8,"I":622},{"p":3,"c":"a","E":145.6,"I":753},{"p":3,"c":"a","E":145.4,"I":883},{"p":3,"c":"a","E":145.2,"I":1004},{"p":3,"c":"a","E":145.0,"I":1104},{"p":3,"c":"a","E":144.8,"I":1177},{"p":3,"c":"a","E":144.6,"I":1215},{"p":3,"c":"a","E":144.5,"I":1220},{"p":3,"c":"a","E":144.4,"I":1215},{"p":3,"c":"a","E":144.2,"I":1177},{"p":3,"c":"a","E":144.0,"I":1104},{"p":3,"c":"a","E":143.8,"I":1004},{"p":3,"c":"a","E":143.6,"I":883},{"p":3,"c":"a","E":143.4,"I":753},{"p":3,"c":"a","E":143.2,"I":622},{"p":3,"c":"a","E":143.0,"I":498},{"p":3,"c":"a","E":142.8,"I":386},{"p":3,"c":"a","E":142.6,"I":289},{"p":3,"c":"a","E":142.4,"I":210},{"p":3,"c":"a","E":142.2,"I":148},{"p":3,"c":"a","E":142.0,"I":101},{"p":3,"c":"a","E":141.8,"I":67},{"p":3,"c":"a","E":141.6,"I":43},{"p":3,"c":"a","E":141.4,"I":26},{"p":3,"c":"a","E":141.2,"I":16},{"p":3,"c":"a","E":141.0,"I":9},{"p":3,"c":"a","E":140.8,"I":5},{"p":3,"c":"a","E":140.6,"I":3},{"p":3,"c":"a","E":140.4,"I":1.5},
{"p":3,"c":"b","E":146.0,"I":1.4},{"p":3,"c":"b","E":145.8,"I":3},{"p":3,"c":"b","E":145.6,"I":7},{"p":3,"c":"b","E":145.4,"I":15},{"p":3,"c":"b","E":145.2,"I":31},{"p":3,"c":"b","E":145.0,"I":59},{"p":3,"c":"b","E":144.8,"I":107},{"p":3,"c":"b","E":144.6,"I":185},{"p":3,"c":"b","E":144.4,"I":300},{"p":3,"c":"b","E":144.2,"I":463},{"p":3,"c":"b","E":144.0,"I":676},{"p":3,"c":"b","E":143.8,"I":936},{"p":3,"c":"b","E":143.6,"I":1226},{"p":3,"c":"b","E":143.4,"I":1522},{"p":3,"c":"b","E":143.2,"I":1790},{"p":3,"c":"b","E":143.0,"I":1995},{"p":3,"c":"b","E":142.8,"I":2106},{"p":3,"c":"b","E":142.7,"I":2120},{"p":3,"c":"b","E":142.6,"I":2106},{"p":3,"c":"b","E":142.4,"I":1995},{"p":3,"c":"b","E":142.2,"I":1790},{"p":3,"c":"b","E":142.0,"I":1522},{"p":3,"c":"b","E":141.8,"I":1226},{"p":3,"c":"b","E":141.6,"I":936},{"p":3,"c":"b","E":141.4,"I":676},{"p":3,"c":"b","E":141.2,"I":463},{"p":3,"c":"b","E":141.0,"I":300},{"p":3,"c":"b","E":140.8,"I":185},{"p":3,"c":"b","E":140.6,"I":107},{"p":3,"c":"b","E":140.4,"I":59},{"p":3,"c":"b","E":140.2,"I":31},{"p":3,"c":"b","E":140.0,"I":15},{"p":3,"c":"b","E":139.8,"I":7},{"p":3,"c":"b","E":139.6,"I":3},{"p":3,"c":"b","E":139.4,"I":1.4},
{"p":3,"c":"c","E":143.8,"I":1.7},{"p":3,"c":"c","E":143.6,"I":3},{"p":3,"c":"c","E":143.4,"I":6},{"p":3,"c":"c","E":143.2,"I":11},{"p":3,"c":"c","E":143.0,"I":19},{"p":3,"c":"c","E":142.8,"I":32},{"p":3,"c":"c","E":142.6,"I":53},{"p":3,"c":"c","E":142.4,"I":83},{"p":3,"c":"c","E":142.2,"I":126},{"p":3,"c":"c","E":142.0,"I":185},{"p":3,"c":"c","E":141.8,"I":263},{"p":3,"c":"c","E":141.6,"I":360},{"p":3,"c":"c","E":141.4,"I":475},{"p":3,"c":"c","E":141.2,"I":607},{"p":3,"c":"c","E":141.0,"I":749},{"p":3,"c":"c","E":140.8,"I":892},{"p":3,"c":"c","E":140.6,"I":1025},{"p":3,"c":"c","E":140.4,"I":1139},{"p":3,"c":"c","E":140.2,"I":1221},{"p":3,"c":"c","E":140.0,"I":1264},{"p":3,"c":"c","E":139.9,"I":1270},{"p":3,"c":"c","E":139.8,"I":1264},{"p":3,"c":"c","E":139.6,"I":1221},{"p":3,"c":"c","E":139.4,"I":1139},{"p":3,"c":"c","E":139.2,"I":1025},{"p":3,"c":"c","E":139.0,"I":892},{"p":3,"c":"c","E":138.8,"I":749},{"p":3,"c":"c","E":138.6,"I":607},{"p":3,"c":"c","E":138.4,"I":475},{"p":3,"c":"c","E":138.2,"I":360},{"p":3,"c":"c","E":138.0,"I":263},{"p":3,"c":"c","E":137.8,"I":185},{"p":3,"c":"c","E":137.6,"I":126},{"p":3,"c":"c","E":137.4,"I":83},{"p":3,"c":"c","E":137.2,"I":53},{"p":3,"c":"c","E":137.0,"I":32},{"p":3,"c":"c","E":136.8,"I":19},{"p":3,"c":"c","E":136.6,"I":11},{"p":3,"c":"c","E":136.4,"I":6},{"p":3,"c":"c","E":136.2,"I":3},{"p":3,"c":"c","E":136.0,"I":1.7},
{"p":3,"c":"d","E":141.2,"I":1.5},{"p":3,"c":"d","E":141.0,"I":3.6},{"p":3,"c":"d","E":140.8,"I":8},{"p":3,"c":"d","E":140.6,"I":18},{"p":3,"c":"d","E":140.4,"I":37},{"p":3,"c":"d","E":140.2,"I":71},{"p":3,"c":"d","E":140.0,"I":131},{"p":3,"c":"d","E":139.8,"I":228},{"p":3,"c":"d","E":139.6,"I":375},{"p":3,"c":"d","E":139.4,"I":585},{"p":3,"c":"d","E":139.2,"I":862},{"p":3,"c":"d","E":139.0,"I":1201},{"p":3,"c":"d","E":138.8,"I":1584},{"p":3,"c":"d","E":138.6,"I":1977},{"p":3,"c":"d","E":138.4,"I":2334},{"p":3,"c":"d","E":138.2,"I":2607},{"p":3,"c":"d","E":138.0,"I":2756},{"p":3,"c":"d","E":137.9,"I":2775},{"p":3,"c":"d","E":137.8,"I":2756},{"p":3,"c":"d","E":137.6,"I":2607},{"p":3,"c":"d","E":137.4,"I":2334},{"p":3,"c":"d","E":137.2,"I":1977},{"p":3,"c":"d","E":137.0,"I":1584},{"p":3,"c":"d","E":136.8,"I":1201},{"p":3,"c":"d","E":136.6,"I":862},{"p":3,"c":"d","E":136.4,"I":585},{"p":3,"c":"d","E":136.2,"I":375},{"p":3,"c":"d","E":136.0,"I":228},{"p":3,"c":"d","E":135.8,"I":131},{"p":3,"c":"d","E":135.6,"I":71},{"p":3,"c":"d","E":135.4,"I":37},{"p":3,"c":"d","E":135.2,"I":18},{"p":3,"c":"d","E":135.0,"I":8},{"p":3,"c":"d","E":134.8,"I":3.6},{"p":3,"c":"d","E":134.6,"I":1.5}
],
"labels":[{"p":1,"t":"450°C-30h"},{"p":2,"t":"450°C-10h"},{"p":3,"t":"450°C-1h"}]
},
"vconcat":[
{
"width":1493,"height":1074,
"layer":[
{"data":{"name":"fit"},"transform":[{"filter":"datum.p == 1"}],
"mark":{"type":"line","color":"black","strokeWidth":2,"interpolate":"monotone"},
"encoding":{
"x":{"field":"E","type":"quantitative","scale":{"domain":[134.5,148.5],"reverse":true,"nice":false,"zero":false},
"axis":{"orient":"bottom","values":[148,146,144,142,140,138,136],"labels":false,"title":null,"tickSize":-17,"tickWidth":2.5,"tickColor":"#333333","domainColor":"#707070","domainWidth":3}},
"y":{"field":"I","type":"quantitative","scale":{"domain":[0,4900],"nice":false,"zero":true},
"axis":{"orient":"left","values":[0,1000,2000,3000,4000],"format":"d","labelFontSize":70,"labelPadding":34,"tickSize":17,"tickWidth":2.5,"tickColor":"#333333","domainColor":"#333333","domainWidth":2.5,"title":"Intensity (cps)","titleFontSize":76,"titlePadding":38}},
"detail":{"field":"c","type":"nominal"}}},
{"data":{"name":"pts"},"transform":[{"filter":"datum.p == 1"}],
"mark":{"type":"circle","color":"black","size":230,"opacity":1},
"encoding":{
"x":{"field":"E","type":"quantitative","axis":{"orient":"top","labels":false,"ticks":false,"title":null,"domainColor":"#333333","domainWidth":2.5}},
"y":{"field":"I","type":"quantitative","axis":{"orient":"right","labels":false,"ticks":false,"title":null,"domainColor":"#333333","domainWidth":2.5}}}},
{"data":{"name":"labels"},"transform":[{"filter":"datum.p == 1"}],
"mark":{"type":"text","font":"Liberation Serif","fontSize":76,"align":"left","baseline":"alphabetic","color":"black"},
"encoding":{"x":{"datum":147.66,"type":"quantitative","axis":null},"y":{"datum":4128,"type":"quantitative","axis":null},"text":{"field":"t"}}}
],
"resolve":{"axis":{"x":"independent","y":"independent"}}
},
{
"width":1493,"height":1072,
"layer":[
{"data":{"name":"fit"},"transform":[{"filter":"datum.p == 2"}],
"mark":{"type":"line","color":"black","strokeWidth":2,"interpolate":"monotone"},
"encoding":{
"x":{"field":"E","type":"quantitative","scale":{"domain":[134.5,148.5],"reverse":true,"nice":false,"zero":false},
"axis":{"orient":"bottom","values":[148,146,144,142,140,138,136],"labels":false,"title":null,"tickSize":-17,"tickWidth":2.5,"tickColor":"#333333","domainColor":"#707070","domainWidth":3}},
"y":{"field":"I","type":"quantitative","scale":{"domain":[0,7880],"nice":false,"zero":true},
"axis":{"orient":"left","values":[0,2000,4000,6000],"format":"d","labelFontSize":70,"labelPadding":34,"tickSize":17,"tickWidth":2.5,"tickColor":"#333333","domainColor":"#333333","domainWidth":2.5,"title":"Intensity (cps)","titleFontSize":76,"titlePadding":38}},
"detail":{"field":"c","type":"nominal"}}},
{"data":{"name":"pts"},"transform":[{"filter":"datum.p == 2"}],
"mark":{"type":"circle","color":"black","size":230,"opacity":1},
"encoding":{
"x":{"field":"E","type":"quantitative","axis":null},
"y":{"field":"I","type":"quantitative","axis":{"orient":"right","labels":false,"ticks":false,"title":null,"domainColor":"#333333","domainWidth":2.5}}}},
{"data":{"name":"labels"},"transform":[{"filter":"datum.p == 2"}],
"mark":{"type":"text","font":"Liberation Serif","fontSize":76,"align":"left","baseline":"alphabetic","color":"black"},
"encoding":{"x":{"datum":147.86,"type":"quantitative","axis":null},"y":{"datum":6621,"type":"quantitative","axis":null},"text":{"field":"t"}}}
],
"resolve":{"axis":{"x":"independent","y":"independent"}}
},
{
"width":1493,"height":1072,
"layer":[
{"data":{"name":"fit"},"transform":[{"filter":"datum.p == 3"}],
"mark":{"type":"line","color":"black","strokeWidth":2,"interpolate":"monotone"},
"encoding":{
"x":{"field":"E","type":"quantitative","scale":{"domain":[134.5,148.5],"reverse":true,"nice":false,"zero":false},
"axis":{"orient":"bottom","values":[148,146,144,142,140,138,136],"format":"d","labelFontSize":70,"labelPadding":44,"tickSize":17,"tickWidth":2.5,"tickColor":"#333333","domainColor":"#555555","domainWidth":3,"title":"Binding Energy (eV)","titleFontSize":77,"titlePadding":48}},
"y":{"field":"I","type":"quantitative","scale":{"domain":[0,3900],"nice":false,"zero":true},
"axis":{"orient":"left","values":[0,1000,2000,3000],"format":"d","labelFontSize":70,"labelPadding":34,"tickSize":17,"tickWidth":2.5,"tickColor":"#333333","domainColor":"#333333","domainWidth":2.5,"title":"Intensity (cps)","titleFontSize":76,"titlePadding":38}},
"detail":{"field":"c","type":"nominal"}}},
{"data":{"name":"pts"},"transform":[{"filter":"datum.p == 3"}],
"mark":{"type":"circle","color":"black","size":230,"opacity":1},
"encoding":{
"x":{"field":"E","type":"quantitative","axis":null},
"y":{"field":"I","type":"quantitative","axis":{"orient":"right","labels":false,"ticks":false,"title":null,"domainColor":"#333333","domainWidth":2.5}}}},
{"data":{"name":"labels"},"transform":[{"filter":"datum.p == 3"}],
"mark":{"type":"text","font":"Liberation Serif","fontSize":76,"align":"left","baseline":"alphabetic","color":"black"},
"encoding":{"x":{"datum":147.78,"type":"quantitative","axis":null},"y":{"datum":3233,"type":"quantitative","axis":null},"text":{"field":"t"}}}
],
"resolve":{"axis":{"x":"independent","y":"independent"}}
}
]
}
